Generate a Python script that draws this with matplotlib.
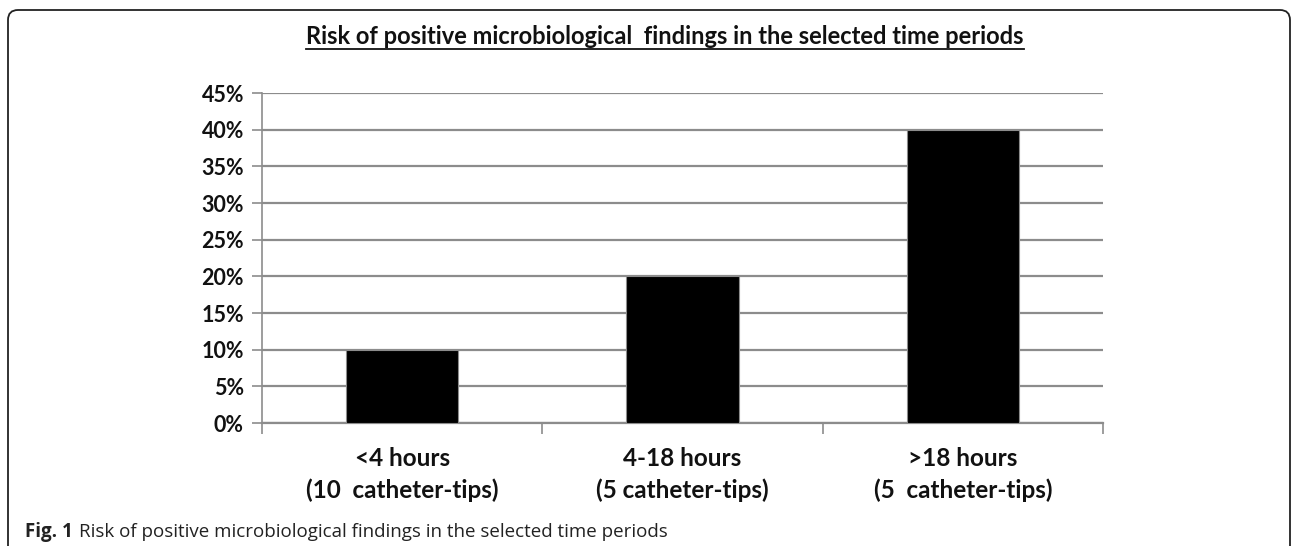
import matplotlib
matplotlib.use("Agg")
import matplotlib.pyplot as plt
from matplotlib.patches import FancyBboxPatch
from matplotlib.lines import Line2D
from matplotlib.ticker import PercentFormatter

# data
categories = ["<4 hours\n(10  catheter-tips)",
              "4-18 hours\n(5 catheter-tips)",
              ">18 hours\n(5  catheter-tips)"]
risk = [0.10, 0.20, 0.40]
yticks = [0, 0.05, 0.10, 0.15, 0.20, 0.25, 0.30, 0.35, 0.40, 0.45]

title = "Risk of positive microbiological  findings in the selected time periods"
caption_bold = "Fig. 1"
caption_text = "Risk of positive microbiological findings in the selected time periods"

W, H, dpi = 1292, 546, 100
fig = plt.figure(figsize=(W / dpi, H / dpi), dpi=dpi)
fig.patch.set_facecolor("white")

grey = "#8c8c8c"
chart_font = "Lato"

# axes placed in pixel terms
left, right, top, bottom = 262, 1103, 93, 423
ax = fig.add_axes([left / W, 1 - bottom / H, (right - left) / W, (bottom - top) / H])

x = range(len(categories))
ax.bar(x, risk, width=0.4, color="black", edgecolor=grey, linewidth=0.8, zorder=3)

ax.set_xlim(-0.5, 2.5)
ax.set_ylim(0, 0.45)
ax.set_yticks(yticks)
ax.yaxis.set_major_formatter(PercentFormatter(1.0, decimals=0))
ax.set_xticks(list(x))
ax.set_xticklabels(categories, fontfamily=chart_font, fontweight="bold",
                   fontsize=17.5, linespacing=1.45, color="#111111")
ax.set_xticks([-0.5, 0.5, 1.5, 2.5], minor=True)
ax.tick_params(axis="x", which="major", length=0, pad=17)
ax.tick_params(axis="x", which="minor", length=8, width=1.2, color=grey, direction="out")
ax.tick_params(axis="y", length=7, width=1.2, color=grey, pad=6)
for lab in ax.get_yticklabels():
    lab.set_fontfamily(chart_font)
    lab.set_fontweight("bold")
    lab.set_fontsize(15.5)
    lab.set_color("#111111")

ax.yaxis.grid(True, color=grey, linewidth=1.6, zorder=0)
ax.set_axisbelow(True)
for side in ["top", "right"]:
    ax.spines[side].set_visible(False)
ax.spines["left"].set_color(grey)
ax.spines["left"].set_linewidth(1.2)
ax.spines["bottom"].set_color(grey)
ax.spines["bottom"].set_linewidth(1.6)

# title with underline
t = fig.text(665 / W, 1 - 36 / H, title, ha="center", va="center",
             fontfamily=chart_font, fontweight="bold", fontsize=17, color="#111111")

# rounded frame around the figure
frame = FancyBboxPatch((0.08, -0.5), 12.82, 5.86,
                       boxstyle="round,pad=0,rounding_size=0.1",
                       transform=fig.dpi_scale_trans, fill=False,
                       edgecolor="#222222", linewidth=1.3)
fig.patches.append(frame)

# caption
c1 = fig.text(25 / W, 1 - 537 / H, caption_bold, ha="left", va="baseline",
              fontfamily="Open Sans", fontweight="bold", fontsize=13.5, color="#222222")

fig.canvas.draw()
r = fig.canvas.get_renderer()
bb = t.get_window_extent(r)
uy = H - 49
fig.add_artist(Line2D([bb.x0 / W, bb.x1 / W], [uy / H, uy / H], color="#111111",
                      linewidth=1.3, transform=fig.transFigure))

cb = c1.get_window_extent(r)
fig.text((cb.x1 + 6) / W, 1 - 537 / H, caption_text, ha="left", va="baseline",
         fontfamily="Open Sans", fontsize=13.5, color="#222222")

fig.savefig("out.png", dpi=dpi)
